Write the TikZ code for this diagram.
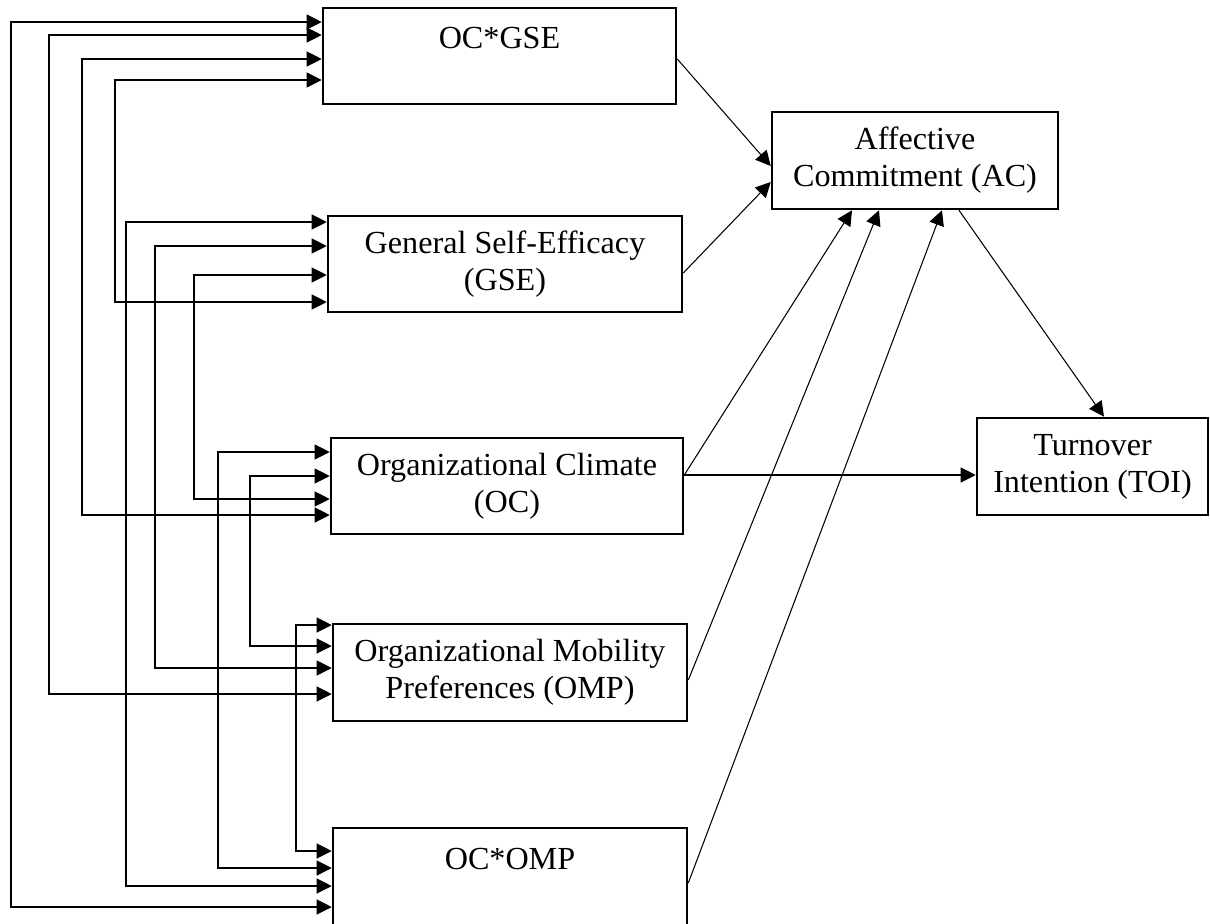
\documentclass[tikz,border=0pt]{standalone}
\usepackage{fontspec}
\setmainfont{Liberation Serif}
\usetikzlibrary{arrows.meta}

\tikzset{
  box/.style={draw, line width=1.5pt, minimum height=1.92cm, align=center, inner sep=2pt,
    font=\fontsize{18.3}{21}\selectfont},
  link/.style={line width=0.6pt, -{Triangle[length=0.3cm,width=0.3cm]}},
  twoway/.style={line width=0.6pt, {Triangle[length=0.3cm,width=0.3cm]}-{Triangle[length=0.3cm,width=0.3cm]}},
}

\begin{document}
\begin{tikzpicture}[x=0.02cm, y=-0.02cm]
\useasboundingbox (0,0) rectangle (1210,923);

% constructs
\node[box, minimum width=7.06cm] (ocgse) at (499.5,56) {OC*GSE\\~};
\node[box, minimum width=7.08cm] (gse) at (505,264) {General Self-Efficacy\\(GSE)};
\node[box, minimum width=7.04cm] (oc) at (507,486) {Organizational Climate\\(OC)};
\node[box, minimum width=7.08cm, minimum height=1.94cm] (omp) at (510,672.5) {Organizational Mobility\\Preferences (OMP)};
\node[box, minimum width=7.08cm, minimum height=1.96cm] (ocomp) at (510,877) {OC*OMP\\~};
\node[box, minimum width=5.72cm, minimum height=1.94cm] (ac) at (915,160.5) {Affective\\Commitment (AC)};
\node[box, minimum width=4.62cm, minimum height=1.94cm] (toi) at (1092.5,466.5) {Turnover\\Intention (TOI)};

% correlations on the left
\draw[twoway] (ocgse.west |- 0,22) -| (11,907) -- (ocomp.west |- 0,907);
\draw[twoway] (ocgse.west |- 0,35) -| (49,694) -- (omp.west |- 0,694);
\draw[twoway] (ocgse.west |- 0,59) -| (82,515) -- (oc.west |- 0,515);
\draw[twoway] (ocgse.west |- 0,80) -| (115,302) -- (gse.west |- 0,302);
\draw[twoway] (gse.west |- 0,222) -| (126,886) -- (ocomp.west |- 0,886);
\draw[twoway] (gse.west |- 0,246) -| (155,668) -- (omp.west |- 0,668);
\draw[twoway] (gse.west |- 0,275) -| (194,499) -- (oc.west |- 0,499);
\draw[twoway] (oc.west |- 0,452) -| (218,868) -- (ocomp.west |- 0,868);
\draw[twoway] (oc.west |- 0,476) -| (250,646) -- (omp.west |- 0,646);
\draw[twoway] (omp.west |- 0,625) -| (296,851) -- (ocomp.west |- 0,851);

% paths to AC and TOI
\draw[link] (ocgse.east |- 0,59) -- (ac.west |- 0,166);
\draw[link] (gse.east |- 0,273) -- (ac.west |- 0,182);
\draw[link] (oc.east |- 0,475) -- (ac.south -| 852,0);
\draw[link] (omp.east |- 0,680) -- (ac.south -| 879,0);
\draw[link] (ocomp.east |- 0,883) -- (ac.south -| 942,0);
\draw[link] (oc.east |- 0,475) -- (toi.west |- 0,475);
\draw[link] (ac.south -| 959,0) -- (toi.north -| 1104,0);
\end{tikzpicture}
\end{document}
